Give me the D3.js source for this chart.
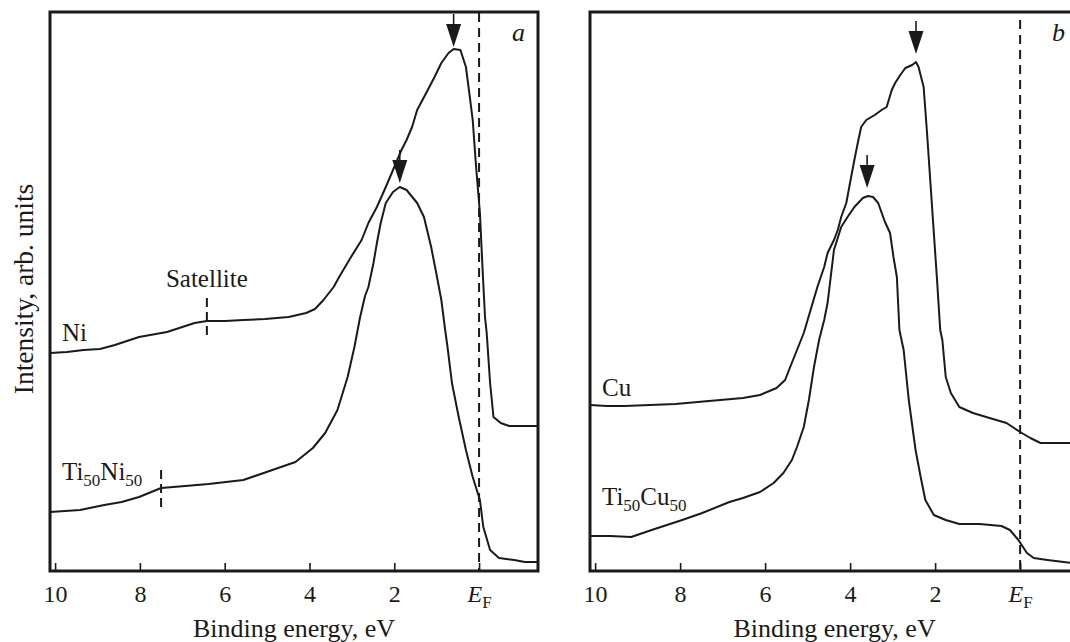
<!DOCTYPE html>
<html><head><meta charset="utf-8">
<script src="https://cdn.jsdelivr.net/npm/d3@7"></script>
<style>
html,body{margin:0;padding:0;background:#fff;}
svg{display:block;}
text{font-family:"Liberation Serif","Times New Roman",serif;fill:#1a1a1a;}
</style></head>
<body>
<svg id="chart" width="1070" height="642"></svg>
<script>
// ---- data (binding energy in eV, intensity in arb. units) ----
const tickValues = [10, 8, 6, 4, 2, 0];

const energyNi = [10.12, 9.72, 9.33, 8.94, 8.59, 8.02, 7.36, 6.71, 6.42, 5.99, 5.56, 5.05, 4.49, 4.08, 3.87, 3.67, 3.43, 3.30, 3.02, 2.77, 2.61, 2.41, 2.20, 2.03, 1.83, 1.71, 1.58, 1.46, 1.21, 1.05, 0.89, 0.72, 0.60, 0.44, 0.31, 0.23, 0.15, 0.07, -0.02, -0.08, -0.14, -0.18, -0.26, -0.34, -0.51, -0.71, -1.39];
const intensityNi = [218, 219, 221, 222, 226, 234, 239, 248, 250, 250, 251, 252, 254, 258, 262, 271, 284, 294, 314, 331, 348, 364, 384, 401, 421, 431, 444, 461, 481, 494, 508, 518, 522, 521, 504, 478, 451, 404, 358, 304, 254, 238, 188, 154, 148, 145, 145];

const energyTiNi = [10.12, 9.41, 8.84, 8.43, 8.02, 7.50, 6.93, 6.38, 5.56, 4.74, 4.33, 3.92, 3.63, 3.34, 3.10, 2.94, 2.81, 2.69, 2.61, 2.49, 2.41, 2.32, 2.20, 2.03, 1.87, 1.71, 1.46, 1.30, 1.13, 1.01, 0.89, 0.80, 0.75, 0.64, 0.48, 0.31, 0.15, -0.02, -0.10, -0.26, -0.47, -0.83, -1.08, -1.39];
const intensityTiNi = [59, 61, 66, 69, 74, 83, 85, 87, 91, 103, 109, 123, 138, 161, 194, 224, 253, 275, 284, 308, 328, 348, 368, 379, 384, 381, 368, 354, 324, 298, 271, 241, 226, 188, 154, 121, 94, 71, 44, 21, 13, 11, 9, 9];

const energyCu = [10.12, 9.72, 9.31, 8.71, 8.11, 7.32, 6.52, 6.12, 5.73, 5.53, 5.41, 5.25, 5.09, 4.93, 4.77, 4.61, 4.53, 4.38, 4.29, 4.21, 4.09, 4.02, 3.90, 3.82, 3.74, 3.62, 3.42, 3.26, 3.14, 3.02, 2.94, 2.82, 2.70, 2.54, 2.45, 2.39, 2.27, 2.19, 2.11, 2.03, 1.95, 1.88, 1.83, 1.75, 1.63, 1.43, 1.11, 0.72, 0.32, 0.00, -0.24, -0.48, -1.39];
const intensityCu = [166, 165, 165, 166, 167, 170, 173, 176, 183, 191, 204, 221, 238, 261, 284, 304, 318, 331, 341, 354, 368, 384, 411, 428, 444, 451, 456, 461, 464, 481, 488, 496, 503, 506, 509, 504, 484, 438, 388, 338, 288, 241, 231, 194, 178, 164, 158, 153, 148, 139, 133, 128, 128];

const energyTiCu = [10.12, 9.65, 9.15, 8.67, 7.95, 7.48, 6.84, 6.52, 6.12, 5.80, 5.57, 5.37, 5.25, 5.09, 4.97, 4.85, 4.73, 4.61, 4.53, 4.38, 4.21, 4.06, 3.90, 3.70, 3.58, 3.46, 3.34, 3.18, 3.06, 2.98, 2.90, 2.84, 2.74, 2.62, 2.46, 2.34, 2.23, 2.03, 1.75, 1.43, 0.95, 0.44, 0.24, 0.04, -0.16, -0.32, -0.64, -1.39];
const intensityTiCu = [35, 35, 34, 41, 51, 58, 69, 73, 79, 88, 98, 111, 124, 144, 171, 204, 231, 251, 268, 321, 344, 354, 364, 373, 375, 374, 368, 349, 338, 314, 294, 241, 221, 171, 121, 94, 71, 56, 51, 47, 47, 45, 41, 31, 18, 13, 11, 7];

// peak arrows: [energy, intensity at arrow tip]
const arrowsA = [[0.60, 524], [1.87, 388]];
const arrowsB = [[2.45, 517], [3.60, 383]];
// satellite markers: [energy, lower intensity, upper intensity]
const satellitesA = [[6.42, 234, 273], [7.50, 63, 101]];

const panelLetters = ["a", "b"];

// ---- layout ----
const svg = d3.select("#chart");
const yTop = 12, yBottom = 571;
const panels = [
  {x0: 50, x1: 538, letter: panelLetters[0], series: [[energyNi, intensityNi], [energyTiNi, intensityTiNi]], arrows: arrowsA, sats: satellitesA,
   labels: [{t: [["Ni", 0]], x: 62, y: 341}, {t: [["Ti",0],["50",1],["Ni",0],["50",1]], x: 62, y: 480}],
   sat: {text: "Satellite", e: 6.42, y: 287}, letterX: 512, efTop: 13},
  {x0: 590, x1: 1079.2, letter: panelLetters[1], series: [[energyCu, intensityCu], [energyTiCu, intensityTiCu]], arrows: arrowsB, sats: [],
   labels: [{t: [["Cu", 0]], x: 602, y: 396}, {t: [["Ti",0],["50",1],["Cu",0],["50",1]], x: 602, y: 505}],
   sat: null, letterX: 1052, efTop: 20}
];

const y = d3.scaleLinear().domain([0, 559]).range([yBottom, yTop]);

panels.forEach(p => {
  const x = d3.scaleLinear().domain([10.12, -1.39]).range([p.x0, p.x1]);
  const g = svg.append("g");

  // EF dashed line
  g.append("line").attr("x1", x(0)).attr("x2", x(0)).attr("y1", p.efTop).attr("y2", yBottom)
    .attr("stroke", "#1a1a1a").attr("stroke-width", 2).attr("stroke-dasharray", "9,6");

  // curves
  const line = d3.line().x(d => x(d[0])).y(d => y(d[1]));
  p.series.forEach(([E, I]) => {
    g.append("path").datum(E.map((e, i) => [e, I[i]]))
      .attr("d", line).attr("fill", "none").attr("stroke", "#1a1a1a")
      .attr("stroke-width", 2).attr("stroke-linejoin", "round");
  });

  // satellite markers
  p.sats.forEach(s => {
    g.append("line").attr("x1", x(s[0])).attr("x2", x(s[0])).attr("y1", y(s[2])).attr("y2", y(s[1]))
      .attr("stroke", "#1a1a1a").attr("stroke-width", 2).attr("stroke-dasharray", "9,5");
  });

  // arrows
  p.arrows.forEach(a => {
    const ax = x(a[0]), ay = y(a[1]);
    const hl = 23, hw = 7.5, sl = 10;
    g.append("line").attr("x1", ax).attr("x2", ax).attr("y1", ay - hl - sl).attr("y2", ay - hl + 2)
      .attr("stroke", "#1a1a1a").attr("stroke-width", 1.6);
    g.append("path").attr("d", `M${ax - hw},${ay - hl}L${ax + hw},${ay - hl}L${ax},${ay}Z`).attr("fill", "#1a1a1a");
  });

  // axis
  const axis = d3.axisBottom(x).tickValues(tickValues).tickSizeInner(-8).tickSizeOuter(0).tickPadding(14)
    .tickFormat(d => d === 0 ? "" : d3.format("d")(d));
  const axg = g.append("g").attr("transform", `translate(0,${yBottom})`).call(axis);
  axg.select(".domain").remove();
  axg.selectAll(".tick line").attr("stroke", "#1a1a1a").attr("stroke-width", 1.6);
  axg.selectAll(".tick text").attr("font-size", 24).attr("font-family", '"Liberation Serif",serif').attr("fill", "#1a1a1a");
  // E_F label
  const ef = axg.selectAll(".tick").filter(d => d === 0).select("text");
  ef.append("tspan").attr("font-style", "italic").text("E");
  ef.append("tspan").attr("font-size", 17).attr("dy", 6).text("F");

  // frame
  g.append("rect").attr("x", p.x0).attr("y", yTop).attr("width", p.x1 - p.x0).attr("height", yBottom - yTop)
    .attr("fill", "none").attr("stroke", "#1a1a1a").attr("stroke-width", 3);

  // axis title
  g.append("text").attr("x", (p.x0 + p.x1) / 2).attr("y", 636.5).attr("text-anchor", "middle")
    .attr("font-size", 26).text("Binding energy, eV");

  // panel letter
  g.append("text").attr("x", p.letterX).attr("y", 41).attr("font-size", 26).attr("font-style", "italic").text(p.letter);

  // series labels
  p.labels.forEach(l => {
    const t = g.append("text").attr("x", l.x).attr("y", l.y).attr("font-size", 25);
    let sub = false;
    l.t.forEach(([s, isSub]) => {
      const ts = t.append("tspan").text(s);
      if (isSub && !sub) { ts.attr("font-size", 17).attr("dy", 6); sub = true; }
      else if (!isSub && sub) { ts.attr("dy", -6); sub = false; }
      else if (isSub) ts.attr("font-size", 17);
    });
  });
  if (p.sat) {
    g.append("text").attr("x", x(p.sat.e)).attr("y", p.sat.y).attr("text-anchor", "middle")
      .attr("font-size", 25).text(p.sat.text);
  }
});

// y-axis title
svg.append("text").attr("transform", "translate(33,289) rotate(-90)").attr("text-anchor", "middle")
  .attr("font-size", 27.5).text("Intensity, arb. units");
</script>
</body></html>
